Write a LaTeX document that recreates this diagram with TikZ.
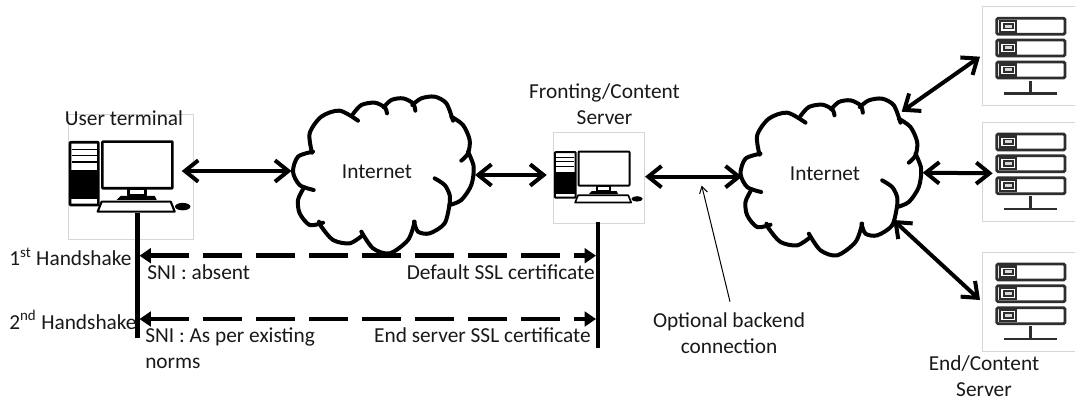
\documentclass[tikz,border=0pt]{standalone}
\usepackage{fontspec}
\setmainfont{Carlito}
\usetikzlibrary{arrows.meta}
\definecolor{boxgray}{HTML}{D6D6D6}
\definecolor{srvgray}{HTML}{2E2E2E}
\tikzset{
  lbl/.style={inner sep=0pt,align=center,text=black!90,font=\fontsize{16}{19.5}\selectfont},
  lblleft/.style={lbl,align=left,anchor=west},
  frame/.style={draw=boxgray,line width=.7pt,fill=white,inner sep=0pt,rectangle,anchor=north west},
  cloudarea/.style={inner sep=0pt,rectangle,anchor=north west,minimum width=136pt,minimum height=118pt},
  bold arrow/.style={line width=3pt,{Straight Barb[length=10pt,width=16pt]}-{Straight Barb[length=10pt,width=16pt]}},
  hs arrow/.style={line width=3.6pt,dash pattern=on 29.25pt off 10.5pt,{Triangle[length=8.5pt,width=11pt]}-{Triangle[length=8.5pt,width=11pt]}},
  lifeline/.style={line width=3.5pt},
  thin arrow/.style={line width=.75pt,-{Straight Barb[length=5pt,width=6pt]}},
  lobe/.style={draw=black,line width=3pt,line cap=round},
}
% cloud outline, in units of one third of a reference pixel
\newcommand{\cloudoutline}[1]{%
\begin{scope}[shift={(#1.north west)},x=.25pt,y=-.25pt,shift={(-40,-78)}]
  \draw[lobe] plot[smooth] coordinates {(97,248)(90,190)(125,140)(180,122)(235,152)};
  \draw[lobe] plot[smooth] coordinates {(220,132)(245,105)(285,98)(315,112)(322,130)};
  \draw[lobe] plot[smooth] coordinates {(312,112)(335,90)(370,85)(400,100)(407,122)};
  \draw[lobe] plot[smooth] coordinates {(398,105)(425,85)(465,80)(500,100)(520,152)};
  \draw[lobe] plot[smooth] coordinates {(515,140)(550,165)(570,210)(565,250)(545,272)};
  \draw[lobe] plot[smooth] coordinates {(565,245)(582,290)(575,345)(545,390)(510,405)};
  \draw[lobe] plot[smooth] coordinates {(465,325)(495,345)(510,375)(510,405)};
  \draw[lobe] plot[smooth] coordinates {(510,400)(495,460)(450,490)(415,485)(403,455)};
  \draw[lobe] plot[smooth] coordinates {(405,455)(385,510)(330,550)(280,535)(245,485)};
  \draw[lobe] plot[smooth] coordinates {(250,495)(210,520)(160,510)(125,470)(118,455)};
  \draw[lobe] plot[smooth] coordinates {(130,458)(90,465)(60,430)(55,390)(70,358)};
  \draw[lobe] plot[smooth] coordinates {(102,360)(60,345)(40,305)(55,260)(100,245)};
\end{scope}}
% desktop computer icon: #1 frame node, #2 unit in pt, #3 stroke in pt
\newcommand{\terminalicon}[3]{%
\begin{scope}[shift={(#1.north west)},x=#2pt,y=-#2pt,line width=#3pt,line join=round]
  \draw[fill=white,rounded corners=.5pt] (2.3,28) rectangle (30.7,90.7);
  \fill (2.3,55.7) rectangle (30.7,85);
  \draw[line width=.6*#3pt] (4,35) -- (29,35) (4,41) -- (29,41) (4,47.5) -- (29,47.5);
  \draw[rounded corners=.5pt,fill=white] (34.7,27.3) rectangle (104.7,74);
  \draw (60.5,74) rectangle (78,81.5);
  \fill (53,81.5) -- (87,81.5) -- (89,85.5) -- (49,85.5) -- cycle;
  \draw[fill=white,line width=.8*#3pt] (34,87.3) -- (103,87.3) -- (107,97.3) -- (30,97.3) -- cycle;
  \fill (115,92.3) ellipse (7.7 and 3.7);
\end{scope}}
% rack server icon: #1 frame node
\newcommand{\serverrow}[1]{%
  \draw[rounded corners=1pt,line width=2.1pt] (15,#1) rectangle (83.3,#1+16);
  \draw[line width=1.8pt] (18,#1+2.5) rectangle (34.3,#1+13.5);
  \draw[line width=1.2pt,fill=black!15] (22.5,#1+5.5) rectangle (31,#1+10);}
\newcommand{\servericon}[1]{%
\begin{scope}[shift={(#1.north west)},draw=srvgray]
  \serverrow{12.3}\serverrow{34}\serverrow{56}
  \draw[line width=2pt] (49,74.5) -- (49,87.3) (22.3,87.3) -- (75.7,87.3);
\end{scope}}
\begin{document}
\begin{tikzpicture}[x=.75pt,y=-.75pt]
\path[use as bounding box,fill=white] (0,0) rectangle (1075,400);
% frames
\node[frame,minimum width=93.8pt,minimum height=93.8pt] (userbox) at (67.7,114.3) {};
\node[frame,minimum width=68.2pt,minimum height=68.2pt] (frontbox) at (553.3,131.7) {};
\node[frame,minimum width=80pt,minimum height=74.2pt] (srvA) at (981.7,6) {};
\node[frame,minimum width=80pt,minimum height=74.2pt] (srvB) at (981.7,121.7) {};
\node[frame,minimum width=80pt,minimum height=74.2pt] (srvC) at (981.7,251.7) {};
\terminalicon{userbox}{.75}{2}
\terminalicon{frontbox}{.546}{1.5}
\servericon{srvA}
\servericon{srvB}
\servericon{srvC}
% clouds
\node[cloudarea] (cloudA) at (293,96) {};
\node[cloudarea] (cloudB) at (740.5,98) {};
\cloudoutline{cloudA}
\cloudoutline{cloudB}
% ports
\coordinate (userport) at (181.7,171);
\coordinate (cloudAw) at (291.5,171);
\coordinate (cloudAe) at (475,175);
\coordinate (frontw) at (546.7,175);
\coordinate (fronte) at (645,176.7);
\coordinate (cloudBw) at (742,176.7);
\coordinate (cloudBne) at (901.7,111.7);
\coordinate (srvAport) at (980,56.7);
\coordinate (cloudBe) at (922.7,172.7);
\coordinate (srvBport) at (992.7,173.3);
\coordinate (cloudBse) at (893.3,220);
\coordinate (srvCport) at (980,300);
\coordinate (userline) at (137.3,213);
\coordinate (userend) at (137.3,338);
\coordinate (frontline) at (598,222.3);
\coordinate (frontend) at (598,348);
\coordinate (hsAl) at (139.5,255.7);
\coordinate (hsAr) at (596,255.7);
\coordinate (hsBl) at (139.5,319);
\coordinate (hsBr) at (596,319);
\coordinate (optfoot) at (730,301.7);
\coordinate (opttip) at (701.7,185.5);
% connectors
\draw[bold arrow] (userport) -- (cloudAw);
\draw[bold arrow] (cloudAe) -- (frontw);
\draw[bold arrow] (fronte) -- (cloudBw);
\draw[bold arrow] (cloudBne) -- (srvAport);
\draw[bold arrow] (cloudBe) -- (srvBport);
\draw[bold arrow] (cloudBse) -- (srvCport);
\draw[lifeline] (userline) -- (userend);
\draw[lifeline] (frontline) -- (frontend);
\draw[hs arrow] (hsAl) -- (hsAr);
\draw[hs arrow] (hsBl) -- (hsBr);
\draw[thin arrow] (optfoot) -- (opttip);
% labels
\node[lbl] (tUser) at (124,117.7) {User terminal};
\node[lbl] (tNetA) at (377,172) {Internet};
\node[lbl] (tNetB) at (825,174) {Internet};
\node[lbl] (tFront) at (604.5,104) {Fronting/Content\\Server};
\node[lblleft] (tHsA) at (9,257) {1\textsuperscript{st} Handshake};
\node[lblleft] (tHsB) at (9,320) {2\textsuperscript{nd} Handshake};
\node[lblleft] (tSniA) at (147,272) {SNI : absent};
\node[lblleft,anchor=north west] (tSniB) at (145,327) {SNI : As per existing\\norms};
\node[lbl,anchor=east] (tCertA) at (595,272) {Default SSL certificate};
\node[lbl,anchor=east] (tCertB) at (591,335) {End server SSL certificate};
\node[lbl] (tOpt) at (729,333) {Optional backend\\connection};
\node[lbl] (tEnd) at (984,376) {End/Content\\Server};
\end{tikzpicture}
\end{document}
